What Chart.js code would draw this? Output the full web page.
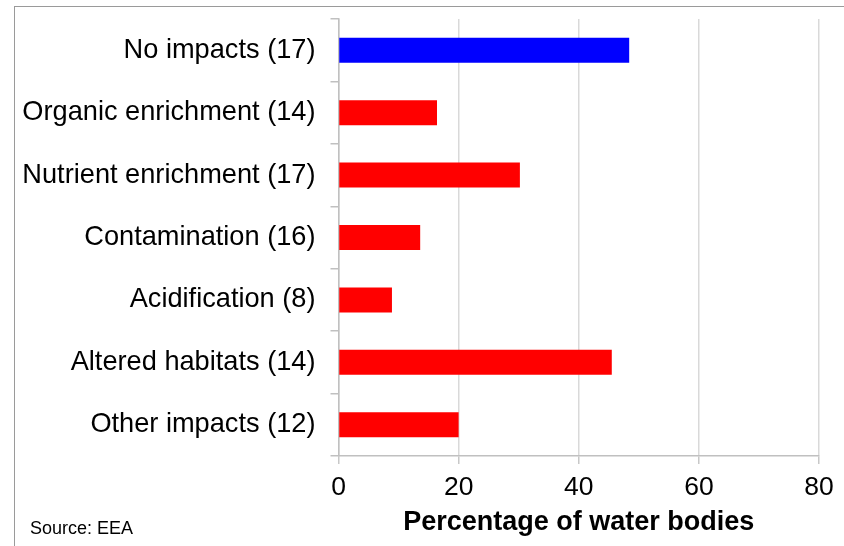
<!DOCTYPE html>
<html>
<head>
<meta charset="utf-8">
<script src="https://cdn.jsdelivr.net/npm/chart.js@4"></script>
<style>
  html, body { margin: 0; padding: 0; background: #fff; }
  #wrap { position: relative; width: 844px; height: 546px; overflow: hidden; }
  #c { position: absolute; left: 0; top: 0; }
  #frame { position: absolute; left: 14px; top: 6px; right: -10px; bottom: -10px;
           border-top: 1.5px solid #9a9a9a; border-left: 1.5px solid #9a9a9a; pointer-events: none; }
  #source { position: absolute; left: 30px; top: 518px; font-family: "Liberation Sans", Arial, sans-serif;
            font-size: 18px; color: #000; }
</style>
</head>
<body>
<div id="wrap">
  <canvas id="c" width="844" height="546"></canvas>
  <div id="frame"></div>
  <div id="source">Source: EEA</div>
</div>
<script>
const categories = [
  "No impacts (17)",
  "Organic enrichment (14)",
  "Nutrient enrichment (17)",
  "Contamination (16)",
  "Acidification (8)",
  "Altered habitats (14)",
  "Other impacts (12)"
];
const percentages = [48.4, 16.4, 30.2, 13.6, 8.9, 45.5, 20.0];
const xTicks = [0, 20, 40, 60, 80];
const xTitle = "Percentage of water bodies";

const FONT = "'Liberation Sans', Arial, sans-serif";

new Chart(document.getElementById('c'), {
  type: 'bar',
  data: {
    labels: categories,
    datasets: [{
      data: percentages,
      backgroundColor: (ctx) => ctx.dataIndex === 0 ? '#0000ff' : '#ff0000',
      borderWidth: 0,
      barPercentage: 0.4,
      categoryPercentage: 1.0
    }]
  },
  options: {
    indexAxis: 'y',
    responsive: false,
    animation: false,
    devicePixelRatio: 1,
    layout: { padding: { top: 19, right: 25, bottom: 0, left: 0 } },
    plugins: { legend: { display: false }, tooltip: { enabled: false } },
    scales: {
      x: {
        min: xTicks[0],
        max: xTicks[xTicks.length - 1],
        afterBuildTicks: (s) => { s.ticks = xTicks.map(v => ({ value: v })); },
        grid: { color: '#d9d9d9', lineWidth: 1.5, tickLength: 8, tickColor: '#c8c8c8' },
        border: { color: '#c0c0c0', width: 1.5 },
        ticks: { color: '#000', padding: 8, font: { family: FONT, size: 26.5 } },
        title: {
          display: true, text: xTitle, color: '#000',
          font: { family: FONT, size: 27, weight: 'bold' },
          padding: { top: 0, bottom: 7 }
        },
        afterFit: (s) => { s.height = 90; s.paddingLeft = 0; s.paddingRight = 0; }
      },
      y: {
        grid: { drawOnChartArea: false, tickLength: 8, color: '#c0c0c0', lineWidth: 1.5 },
        border: { color: '#c0c0c0', width: 1.5 },
        ticks: { color: '#000', padding: 15, font: { family: FONT, size: 27.2 } },
        afterFit: (s) => { s.width = 338.5; s.paddingTop = 0; s.paddingBottom = 0; }
      }
    }
  }
});
</script>
</body>
</html>
